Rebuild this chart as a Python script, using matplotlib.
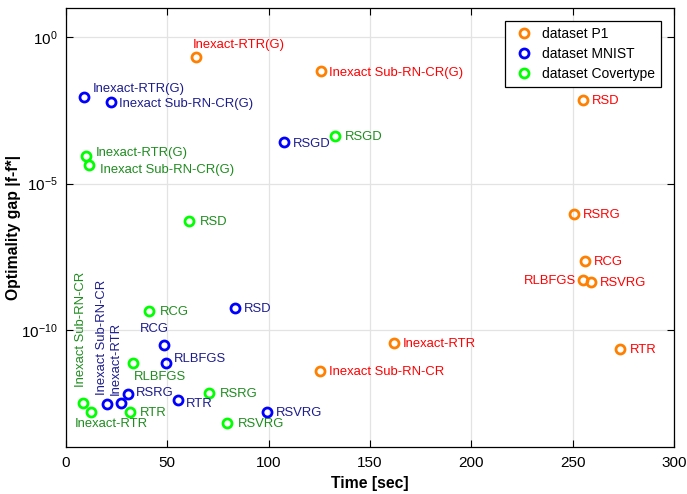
import matplotlib
matplotlib.use("Agg")
import matplotlib.pyplot as plt
from matplotlib.ticker import FixedLocator, NullLocator

plt.rcParams['font.family'] = ['Liberation Sans', 'DejaVu Sans']

# ---- data ----
p1_names = ["Inexact-RTR(G)", "Inexact Sub-RN-CR(G)", "RSD", "RSRG", "RCG", "RLBFGS",
            "RSVRG", "Inexact-RTR", "Inexact Sub-RN-CR", "RTR"]
p1_time = [64.3, 126.0, 255.2, 250.8, 255.9, 255.2, 259.0, 161.7, 125.3, 273.6]
p1_gap = [2.17e-1, 7.06e-2, 7.21e-3, 9.4e-7, 2.34e-8, 5.0e-9, 4.37e-9, 3.63e-11, 3.98e-12, 2.29e-11]

mnist_names = ["Inexact-RTR(G)", "Inexact Sub-RN-CR(G)", "RSGD", "RSD", "RCG", "RLBFGS",
               "RSRG", "RTR", "RSVRG", "Inexact Sub-RN-CR", "Inexact-RTR"]
mnist_time = [9.0, 22.2, 107.5, 83.5, 48.5, 49.2, 30.7, 55.1, 99.3, 20.1, 27.3]
mnist_gap = [9.3e-3, 6.3e-3, 2.69e-4, 5.75e-10, 3.09e-11, 7.24e-12, 6.3e-13, 4.07e-13,
             1.55e-13, 2.88e-13, 3.16e-13]

cov_names = ["Inexact-RTR(G)", "Inexact Sub-RN-CR(G)", "RSGD", "RSD", "RCG", "RLBFGS",
             "RSRG", "RTR", "RSVRG", "Inexact Sub-RN-CR", "Inexact-RTR"]
cov_time = [9.7, 11.3, 132.6, 60.7, 40.9, 33.2, 70.4, 31.4, 79.6, 8.5, 12.3]
cov_gap = [8.5e-5, 4.27e-5, 4.27e-4, 5.25e-7, 4.27e-10, 7.6e-12, 6.9e-13, 1.62e-13,
           6.6e-14, 3.24e-13, 1.62e-13]

legend_labels = ["dataset P1", "dataset MNIST", "dataset Covertype"]

# ---- label placement (offset pixels, ha, va, rotation) ----
R = (9, -1, 'left', 'center', 0)
p1_place = {
    "Inexact-RTR(G)": (-4, 12, 'left', 'center', 0),
    "Inexact Sub-RN-CR(G)": (8, -2, 'left', 'center', 0),
    "RLBFGS": (-7, -1, 'right', 'center', 0),
}
mnist_place = {
    "Inexact-RTR(G)": (9, 8, 'left', 'center', 0),
    "Inexact Sub-RN-CR(G)": (8, -2, 'left', 'center', 0),
    "RSGD": (9, -2, 'left', 'center', 0),
    "RCG": (-10, 16, 'center', 'center', 0),
    "RLBFGS": (8, 4, 'left', 'center', 0),
    "RSRG": (8, 1, 'left', 'center', 0),
    "RTR": (8, -4, 'left', 'center', 0),
    "Inexact Sub-RN-CR": (-5, 9, 'center', 'bottom', 90),
    "Inexact-RTR": (-6, 8, 'center', 'bottom', 90),
}
cov_place = {
    "Inexact-RTR(G)": (10, 3, 'left', 'center', 0),
    "Inexact Sub-RN-CR(G)": (11, -5, 'left', 'center', 0),
    "RSGD": (10, -1, 'left', 'center', 0),
    "RSD": (11, -1, 'left', 'center', 0),
    "RCG": (11, -1, 'left', 'center', 0),
    "RLBFGS": (27, -14, 'center', 'center', 0),
    "RSRG": (11, -1, 'left', 'center', 0),
    "RTR": (10, -1, 'left', 'center', 0),
    "RSVRG": (11, -1, 'left', 'center', 0),
    "Inexact Sub-RN-CR": (-2, 16, 'center', 'bottom', 90),
    "Inexact-RTR": (20, -12, 'center', 'center', 0),
}

fig = plt.figure(figsize=(6.87, 4.94), dpi=100)
ax = fig.add_axes([66/687, 47/494, 608/687, 439/494])

series = [
    (p1_names, p1_time, p1_gap, '#FF8000', '#FF0000', p1_place),
    (mnist_names, mnist_time, mnist_gap, '#0000FF', '#1C1C8E', mnist_place),
    (cov_names, cov_time, cov_gap, '#00FF00', '#1E8C1E', cov_place),
]

handles = []
for (names, t, g, mc, tc, place), lab in zip(series, legend_labels):
    h, = ax.plot(t, g, linestyle='none', marker='o', markersize=6.5, markerfacecolor='none',
                 markeredgecolor=mc, markeredgewidth=2.0, label=lab, zorder=3)
    handles.append(h)
    for n, x, y in zip(names, t, g):
        dx, dy, ha, va, rot = place.get(n, R)
        ax.annotate(n, (x, y), xytext=(dx, dy), textcoords='offset pixels',
                    ha=ha, va=va, rotation=rot, color=tc, fontsize=9.4, zorder=4)

ax.set_yscale('log')
ax.set_xlim(0, 300)
ax.set_ylim(1e-14, 1e1)
ax.xaxis.set_major_locator(FixedLocator([0, 50, 100, 150, 200, 250, 300]))
ax.yaxis.set_major_locator(FixedLocator([1e-10, 1e-5, 1e0]))
ax.yaxis.set_minor_locator(NullLocator())
ax.tick_params(direction='in', top=True, right=True, labelsize=11, length=5, width=0.8)
ax.tick_params(axis='x', pad=6.5)
ax.tick_params(axis='y', pad=6)
ax.grid(True, color='#E3E3E3', linewidth=0.9)
ax.set_axisbelow(True)
for s in ax.spines.values():
    s.set_linewidth(0.9)

ax.set_xlabel("Time [sec]", fontsize=11.3, fontweight='bold', labelpad=4)
ax.set_ylabel("Optimality gap |f-f*|", fontsize=11.3, fontweight='bold', labelpad=0)

leg = ax.legend(handles=handles, loc='upper right', fontsize=10, fancybox=False,
                framealpha=1, edgecolor='black', borderaxespad=0.94, handletextpad=0.3,
                handlelength=2.0, labelspacing=0.45, borderpad=0.4)
leg.get_frame().set_linewidth(0.9)

fig.savefig("out.png", dpi=100)
